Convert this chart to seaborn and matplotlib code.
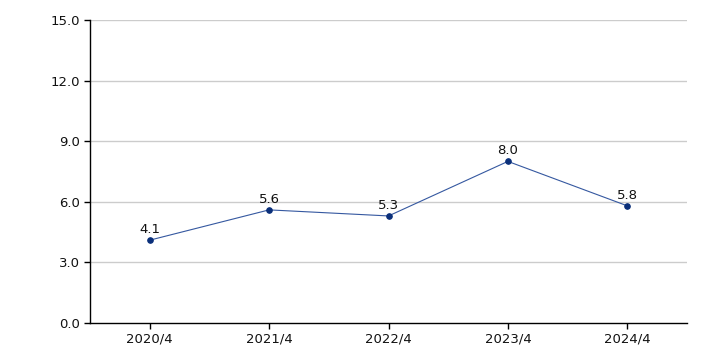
import matplotlib
matplotlib.use("Agg")
import matplotlib.pyplot as plt
import seaborn as sns
import pandas as pd

# data
periods = ["2020/4", "2021/4", "2022/4", "2023/4", "2024/4"]
values = [4.1, 5.6, 5.3, 8.0, 5.8]
yticks = [0.0, 3.0, 6.0, 9.0, 12.0, 15.0]

df = pd.DataFrame({"period": periods, "value": values})

sns.set_theme(style="white")
plt.rcParams["font.family"] = ["DejaVu Sans"]

fig = plt.figure(figsize=(7.06, 3.53), dpi=100)
ax = fig.add_axes([90 / 706, 1 - 323 / 353, 597 / 706, 303 / 353])

sns.lineplot(data=df, x="period", y="value", ax=ax, color="#3558a0",
             linewidth=0.8, marker="o", markersize=4,
             markerfacecolor="#0a2f7a", markeredgecolor="#0a2f7a", sort=False)

for i, v in enumerate(values):
    ax.annotate(f"{v:.1f}", (i, v), xytext=(0, 3), textcoords="offset points",
                ha="center", va="bottom", fontsize=9.5, color="#111111")

ax.set_xlim(-0.5, len(periods) - 0.5)
ax.set_ylim(0, 15)
ax.set_yticks(yticks)
ax.set_yticklabels([f"{t:.1f}" for t in yticks])
ax.set_xlabel("")
ax.set_ylabel("")

for t in yticks[1:]:
    ax.axhline(t, color="#cccccc", linewidth=1, zorder=0)

for s in ["top", "right"]:
    ax.spines[s].set_visible(False)
for s in ["left", "bottom"]:
    ax.spines[s].set_color("black")
    ax.spines[s].set_linewidth(1)

ax.tick_params(axis="both", which="both", length=4, width=1, color="black",
               labelsize=9.5, labelcolor="#111111", direction="out",
               left=True, bottom=True, pad=3)

fig.savefig("out.png", dpi=100)
